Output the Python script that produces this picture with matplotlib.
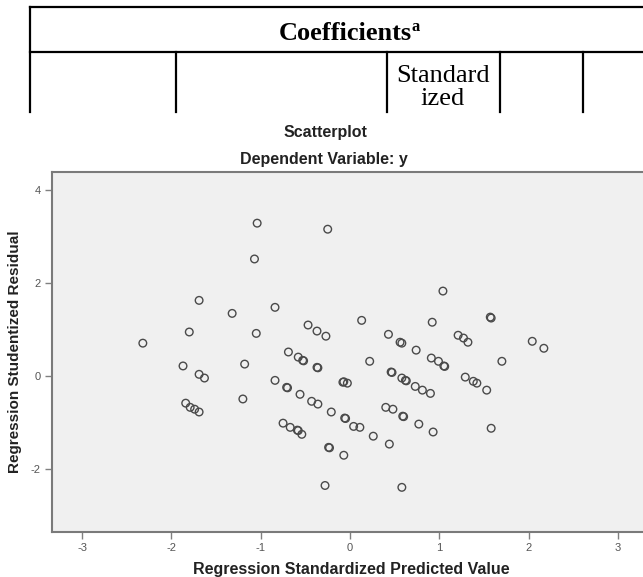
import matplotlib.pyplot as plt
from matplotlib.lines import Line2D

plt.rcParams['axes.unicode_minus'] = False

W, H = 643, 577

# standardized predicted value (x) and studentized residual (y)
pred = [-1.04, -0.25, -1.07, -1.69, -1.32, -0.84, -1.80, -1.05, -0.47, -0.37,
        -0.27, 0.13, 1.04, 0.92, 1.57, 1.58, 0.43, 1.21, 1.27, 1.32,
        2.04, 2.17, 1.70, 0.56, 0.58, 0.74, 0.91, 0.99, 1.05, 1.06,
        0.22, 1.29, 1.38, 1.42, 1.53, 1.58, 0.46, 0.47, 0.58, 0.62,
        0.63, 0.73, 0.81, 0.90, 0.40, 0.48, 0.59, 0.60, 0.77, 0.93,
        0.58, -0.28, -0.24, -0.23, -0.07, 0.44, 0.26, 0.11, 0.04, -0.06,
        -0.05, -0.21, -0.36, -0.43, -0.56, -0.71, -0.70, -0.84, -0.75, -0.67,
        -0.59, -0.58, -0.54, -0.08, -0.07, -0.03, -0.69, -0.58, -0.53, -0.52,
        -0.37, -0.36, -2.32, -1.87, -1.69, -1.63, -1.84, -1.79, -1.74, -1.69,
        -1.18, -1.20]
resid = [3.29, 3.16, 2.52, 1.63, 1.35, 1.48, 0.95, 0.92, 1.10, 0.97,
         0.86, 1.20, 1.83, 1.16, 1.27, 1.25, 0.90, 0.88, 0.82, 0.73,
         0.75, 0.60, 0.32, 0.73, 0.71, 0.56, 0.39, 0.32, 0.22, 0.21,
         0.32, -0.02, -0.11, -0.15, -0.30, -1.12, 0.09, 0.08, -0.04, -0.09,
         -0.10, -0.22, -0.30, -0.37, -0.67, -0.71, -0.86, -0.87, -1.03, -1.20,
         -2.39, -2.35, -1.53, -1.54, -1.70, -1.46, -1.29, -1.10, -1.08, -0.90,
         -0.91, -0.77, -0.60, -0.54, -0.39, -0.24, -0.25, -0.09, -1.01, -1.10,
         -1.16, -1.17, -1.25, -0.13, -0.12, -0.15, 0.52, 0.41, 0.34, 0.33,
         0.19, 0.18, 0.71, 0.22, 0.04, -0.04, -0.58, -0.67, -0.71, -0.77,
         0.26, -0.49]

x_ticks = [-3, -2, -1, 0, 1, 2, 3]
y_ticks = [-2, 0, 2, 4]


def fx(px):
    return px / W


def fy(py):
    return 1 - py / H


fig = plt.figure(figsize=(W / 100, H / 100), dpi=100)

# piece of the "Coefficients" table above the chart
table_lines = [(30, 7, 650, 7), (30, 7, 30, 112), (30, 52, 650, 52),
               (176, 52, 176, 112), (387, 52, 387, 112),
               (500, 52, 500, 112), (583, 52, 583, 112)]
for x0, y0, x1, y1 in table_lines:
    fig.add_artist(Line2D([fx(x0), fx(x1)], [fy(y0), fy(y1)], color='black',
                          lw=1.6, transform=fig.transFigure))
serif = 'Liberation Serif'
fig.text(fx(412), fy(40), 'Coefficients', family=serif, weight='bold',
         fontsize=19, ha='right', va='baseline')
fig.text(fx(412), fy(31), 'a', family=serif, weight='bold',
         fontsize=12, ha='left', va='baseline')
fig.text(fx(443), fy(82), 'Standard', family=serif, fontsize=19,
         ha='center', va='baseline')
fig.text(fx(443), fy(105), 'ized', family=serif, fontsize=19,
         ha='center', va='baseline')

# scatterplot
sans = 'Liberation Sans'
ax = fig.add_axes([fx(52), fy(532), fx(643) - fx(52), fy(172) - fy(532)])
ax.set_facecolor('#f0f0f0')
ax.scatter(pred, resid, s=30, facecolors='none', edgecolors='#4a4a4a',
           linewidths=1.0)
ax.set_xlim(-3.337, 3.28)
ax.set_ylim(-3.35, 4.39)
ax.set_xticks(x_ticks)
ax.set_yticks(y_ticks)
ax.tick_params(direction='out', length=5, width=1, color='#808080',
               labelsize=8, labelcolor='#555555', pad=3)
for t in ax.get_xticklabels() + ax.get_yticklabels():
    t.set_family(sans)
for side in ['left', 'bottom', 'top']:
    ax.spines[side].set_color('#7a7a7a')
    ax.spines[side].set_linewidth(1.5)
ax.spines['right'].set_visible(False)

fig.text(fx(325), fy(137), 'Scatterplot', family=sans, weight='bold',
         fontsize=11.5, ha='center', va='baseline', color='#222222')
fig.text(fx(324), fy(164), 'Dependent Variable: y', family=sans,
         weight='bold', fontsize=11.5, ha='center', va='baseline',
         color='#222222')
fig.text(fx(351), fy(574), 'Regression Standardized Predicted Value',
         family=sans, weight='bold', fontsize=11.5, ha='center',
         va='baseline', color='#222222')
fig.text(fx(15), fy(352), 'Regression Studentized Residual', family=sans,
         weight='bold', fontsize=11, ha='center', va='center',
         rotation=90, color='#222222')

fig.savefig('out.png', dpi=100)
